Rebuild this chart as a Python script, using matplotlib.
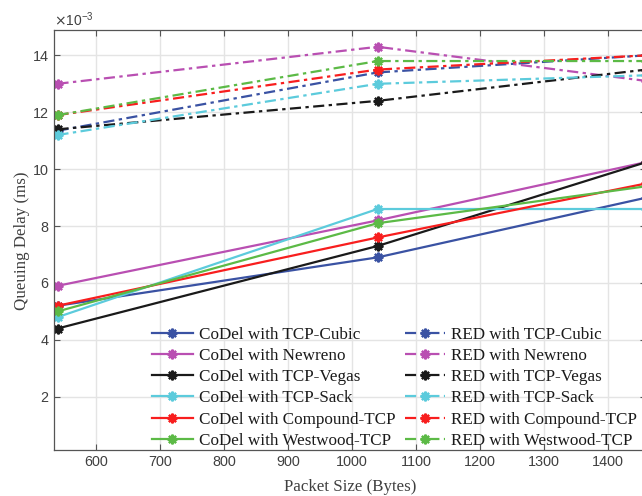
import numpy as np
import matplotlib
matplotlib.use('Agg')
import matplotlib.pyplot as plt
from matplotlib.ticker import ScalarFormatter

# Packet sizes (Bytes)
packet_size = [540, 1040, 1460]

# Queuing delay (x 1e-3 ms)
codel_cubic = [5.2, 6.9, 9.0]
codel_newreno = [5.9, 8.2, 10.25]
codel_vegas = [4.4, 7.3, 10.25]
codel_sack = [4.8, 8.6, 8.6]
codel_compound = [5.2, 7.6, 9.5]
codel_westwood = [5.0, 8.1, 9.4]

red_cubic = [11.35, 13.4, 14.0]
red_newreno = [13.0, 14.3, 13.1]
red_vegas = [11.4, 12.4, 13.5]
red_sack = [11.2, 13.0, 13.3]
red_compound = [11.9, 13.5, 14.0]
red_westwood = [11.9, 13.8, 13.8]

variants = ['TCP-Cubic', 'Newreno', 'TCP-Vegas', 'TCP-Sack', 'Compound-TCP', 'Westwood-TCP']
colors = ['#3a52a3', '#b94fb2', '#1a1a1a', '#5ccbdc', '#f81e1e', '#5cba46']
codel = [codel_cubic, codel_newreno, codel_vegas, codel_sack, codel_compound, codel_westwood]
red = [red_cubic, red_newreno, red_vegas, red_sack, red_compound, red_westwood]

fig = plt.figure(figsize=(6.42, 4.96), dpi=100)
ax = fig.add_axes([0.0846, 0.0921, 0.9223, 0.8468])

x = np.array(packet_size)
star = (8, 2, 0)
for vals, c, name in zip(codel, colors, variants):
    ax.plot(x, np.array(vals) * 1e-3, '-', color=c, lw=1.6, marker=star,
            ms=7, mew=1.6, label=f'CoDel with {name}')
for vals, c, name in zip(red, colors, variants):
    ax.plot(x, np.array(vals) * 1e-3, '-.', color=c, lw=1.6, marker=star,
            ms=7, mew=1.6, dashes=(5, 2, 1.5, 2), label=f'RED with {name}')

ax.set_xlim(535, 1460)
ax.set_ylim(0.12e-3, 14.88e-3)
ax.set_xticks(np.arange(600, 1401, 100))
ax.set_yticks(np.arange(2, 15, 2) * 1e-3)

fmt = ScalarFormatter(useMathText=True)
fmt.set_powerlimits((-3, -3))
ax.yaxis.set_major_formatter(fmt)
ax.yaxis.get_offset_text().set_fontsize(10)
ax.yaxis.get_offset_text().set_color('#505050')
ax.yaxis.get_offset_text().set_family('Liberation Sans')

ax.grid(True, color='#e4e4e4', lw=1.0)
ax.set_axisbelow(True)
ax.tick_params(direction='in', length=4, width=0.8, top=True, right=True,
               colors='#555555', labelcolor='#404040', labelsize=10.4)
for lab in ax.get_xticklabels() + ax.get_yticklabels():
    lab.set_family('Liberation Sans')
for s in ax.spines.values():
    s.set_color('#555555')
    s.set_linewidth(0.9)

ax.set_xlabel('Packet Size (Bytes)', family='Liberation Serif', fontsize=12.2,
              color='#404040', labelpad=7)
ax.set_ylabel('Queuing Delay (ms)', family='Liberation Serif', fontsize=12.2,
              color='#404040', labelpad=1)

leg = fig.legend(loc='center', bbox_to_anchor=(0.615, 0.218), ncol=2,
                 frameon=False, prop={'family': 'Liberation Serif', 'size': 12.3},
                 handlelength=2.35, handletextpad=0.35, columnspacing=0.6,
                 labelspacing=0.3, borderpad=0)
for t in leg.get_texts():
    t.set_color('#1a1a1a')

fig.savefig('out.png', dpi=100)
